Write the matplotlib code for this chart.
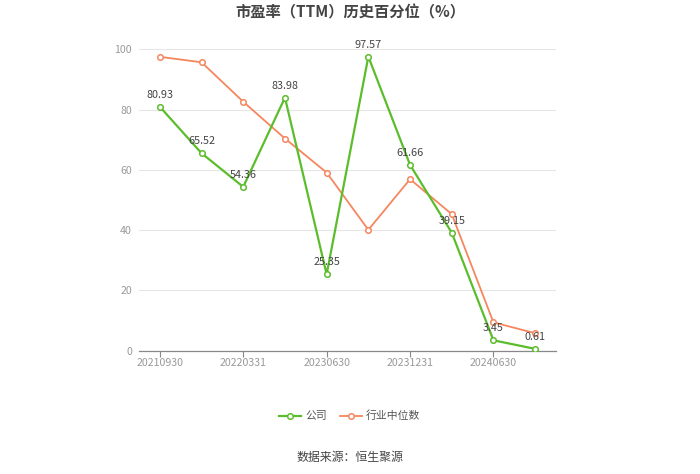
import matplotlib
matplotlib.use("Agg")
import matplotlib.pyplot as plt

plt.rcParams['font.family'] = ['Noto Sans CJK SC', 'DejaVu Sans']

categories = ["20210930", "20211231", "20220331", "20221231", "20230630",
              "20230930", "20231231", "20240331", "20240630", "20240930"]
company = [80.93, 65.52, 54.36, 83.98, 25.35, 97.57, 61.66, 39.15, 3.45, 0.61]
industry = [97.5, 95.7, 82.6, 70.4, 59.1, 40.1, 56.9, 45.3, 9.4, 5.8]
yticks = [0, 20, 40, 60, 80, 100]

green = "#5cbd2c"
orange = "#f5875f"

W, H = 700, 474
fig = plt.figure(figsize=(W / 100, H / 100), dpi=100)
left, right, top, bottom = 139, 556, 49.3, 350.7
ax = fig.add_axes([left / W, 1 - bottom / H, (right - left) / W, (bottom - top) / H])

x = list(range(len(categories)))
ax.plot(x, industry, color=orange, lw=1.3, marker='o', ms=4, mfc='white',
        mec=orange, mew=1.1, label="行业中位数", zorder=3)
ax.plot(x, company, color=green, lw=1.6, marker='o', ms=4, mfc='white',
        mec=green, mew=1.1, label="公司", zorder=4)

for xi, v in zip(x, company):
    ax.annotate(f"{v:.2f}", (xi, v), xytext=(0, 5), textcoords='offset points',
                ha='center', va='bottom', fontsize=7.8, color='#444444', zorder=5)

ax.set_xlim(-0.5, len(categories) - 0.5)
ax.set_ylim(0, 100)
ax.set_yticks(yticks)
ax.set_yticklabels([str(t) for t in yticks])
tick_idx = [0, 2, 4, 6, 8]
ax.set_xticks(tick_idx)
ax.set_xticklabels([categories[i] for i in tick_idx])

ax.grid(axis='y', color='#e6e6e6', lw=0.8)
ax.set_axisbelow(True)
for s in ['top', 'right', 'left']:
    ax.spines[s].set_visible(False)
ax.spines['bottom'].set_color('#888888')
ax.spines['bottom'].set_linewidth(0.9)
ax.tick_params(axis='y', length=0, labelsize=7.6, labelcolor='#999999', pad=5)
ax.tick_params(axis='x', length=4, color='#888888', labelsize=7.6, labelcolor='#999999', pad=1.5)

fig.text(0.5, 1 - 12 / H, "市盈率（TTM）历史百分位（%）", ha='center', va='center',
         fontsize=11, fontweight='bold', color='#444444')

handles, labels = ax.get_legend_handles_labels()
leg = fig.legend([handles[1], handles[0]], [labels[1], labels[0]], loc='center',
                 bbox_to_anchor=(0.5, 1 - 416 / H), ncol=2, frameon=False,
                 fontsize=7.8, handlelength=2.0, columnspacing=1.2, handletextpad=0.4)
for t in leg.get_texts():
    t.set_color('#555555')

fig.text(0.5, 1 - 457 / H, "数据来源：恒生聚源", ha='center', va='center',
         fontsize=8.6, color='#444444')

fig.savefig("out.png", dpi=100, facecolor='white')
